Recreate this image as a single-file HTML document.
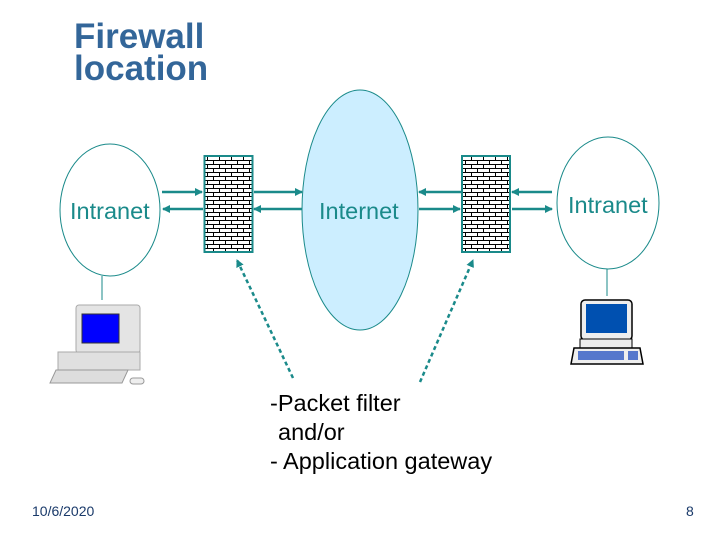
<!DOCTYPE html>
<html><head><style>
body{margin:0;background:#fff;}
svg{display:block;font-family:"Liberation Sans",sans-serif;}
</style></head><body>
<svg width="720" height="540" viewBox="0 0 720 540">
<defs>
<pattern id="brick" width="12" height="8" patternUnits="userSpaceOnUse" x="204" y="156">
<rect width="12" height="8" fill="#fff"/>
<path d="M0 0.5H12M0 4.5H12M3.5 0.5V4.5M9.5 4.5V8.5" stroke="#000" stroke-width="1" fill="none"/>
</pattern>
<marker id="ah" markerWidth="8" markerHeight="8" refX="7" refY="4" orient="auto" markerUnits="userSpaceOnUse">
<path d="M0 0L8 4L0 8z" fill="#1a8a8a"/>
</marker>
</defs>
<text x="74" y="48" font-size="35" font-weight="bold" fill="#336699">Firewall</text>
<text x="74" y="80" font-size="35" font-weight="bold" fill="#336699">location</text>

<ellipse cx="110" cy="210" rx="50" ry="66" fill="none" stroke="#1a8a8a" stroke-width="1"/>
<text x="70" y="219" font-size="23.5" fill="#1a8a8a">Intranet</text>
<line x1="102" y1="276" x2="102" y2="300" stroke="#1a8a8a"/>

<ellipse cx="360" cy="210" rx="58" ry="120" fill="#cceeff" stroke="#1a8a8a" stroke-width="1"/>
<text x="319" y="219" font-size="23.5" fill="#1a8a8a">Internet</text>

<ellipse cx="608" cy="203" rx="51" ry="66" fill="none" stroke="#1a8a8a" stroke-width="1"/>
<text x="568" y="213" font-size="23.5" fill="#1a8a8a">Intranet</text>
<line x1="607" y1="269" x2="607" y2="296" stroke="#1a8a8a"/>

<rect x="204.5" y="156" width="48" height="96" fill="url(#brick)" stroke="#1a8a8a" stroke-width="2"/>
<rect x="462" y="156" width="48" height="96" fill="url(#brick)" stroke="#1a8a8a" stroke-width="2"/>

<g stroke="#1a8a8a" stroke-width="2.5" marker-end="url(#ah)">
<line x1="162" y1="192" x2="202" y2="192"/>
<line x1="203" y1="209" x2="163" y2="209"/>
<line x1="254" y1="192" x2="302" y2="192"/>
<line x1="302" y1="209" x2="254" y2="209"/>
<line x1="461" y1="192" x2="419" y2="192"/>
<line x1="419" y1="209" x2="460" y2="209"/>
<line x1="552" y1="192" x2="512" y2="192"/>
<line x1="512" y1="209" x2="552" y2="209"/>
<line x1="293" y1="378" x2="237" y2="260" stroke-dasharray="4,3"/>
<line x1="420" y1="382" x2="473" y2="260" stroke-dasharray="4,3"/>
</g>

<!-- left computer -->
<rect x="76" y="305" width="64" height="48" rx="3" fill="#e4e4e4" stroke="#aaa"/>
<rect x="82" y="314" width="37" height="29" fill="#0000ff" stroke="#333"/>
<rect x="58" y="352" width="82" height="18" fill="#e0e0e0" stroke="#aaa"/>
<polygon points="56,370 128,370 122,383 50,383" fill="#ddd" stroke="#999"/>
<rect x="130" y="378" width="14" height="6" rx="3" fill="#eee" stroke="#999"/>
<!-- right computer -->
<rect x="581" y="300" width="51" height="40" rx="4" fill="#eee" stroke="#000" stroke-width="1.5"/>
<rect x="586" y="304" width="41" height="29" fill="#0050b0"/>
<rect x="580" y="339" width="52" height="9" fill="#eee" stroke="#000"/>
<polygon points="574,348 640,348 643,364 571,364" fill="#eee" stroke="#000" stroke-width="1.5"/>
<rect x="578" y="351" width="46" height="9" fill="#5577cc"/>
<rect x="628" y="351" width="10" height="9" fill="#5577cc"/>

<text x="270" y="411" font-size="23.5" fill="#000">-Packet filter</text>
<text x="278" y="440" font-size="23.5" fill="#000">and/or</text>
<text x="270" y="469" font-size="23.5" fill="#000">- Application gateway</text>

<text x="32" y="516" font-size="14" fill="#1a3a6a">10/6/2020</text>
<text x="686" y="516" font-size="14" fill="#1a3a6a">8</text>
</svg>
</body></html>
